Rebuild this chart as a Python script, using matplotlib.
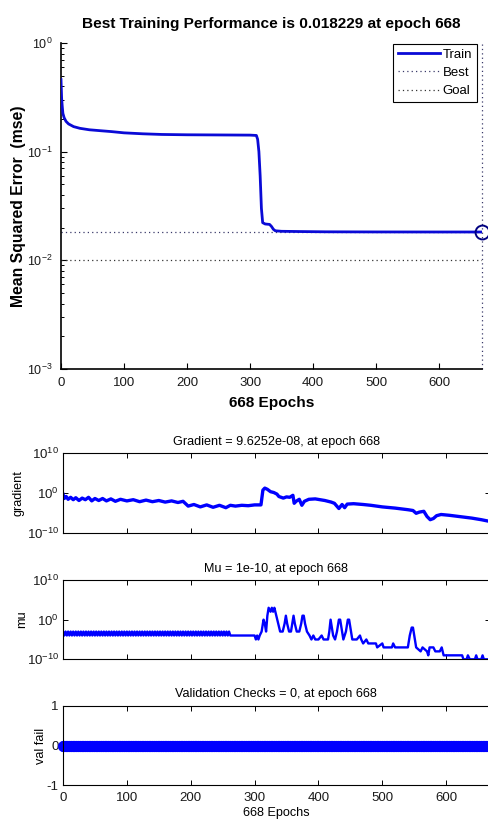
import numpy as np
import matplotlib
matplotlib.use("Agg")
import matplotlib.pyplot as plt
from matplotlib.ticker import LogLocator, NullFormatter, FixedLocator

SANS = "Liberation Sans"
plt.rcParams['font.family'] = [SANS, 'DejaVu Sans']
plt.rcParams['mathtext.fontset'] = 'custom'
plt.rcParams['mathtext.rm'] = SANS
plt.rcParams['mathtext.it'] = SANS
plt.rcParams['axes.linewidth'] = 0.8
plt.rcParams['axes.unicode_minus'] = False

# ---------------- data ----------------
n_epochs = 668
best_perf = 0.018229
goal = 0.01

train_epochs = [0, 1, 2, 3, 5, 8, 12, 20, 30, 45, 62, 80, 100, 130, 160, 200, 250, 300,
                310, 312, 314, 316, 318, 320, 324, 331, 334, 337, 340, 350, 380, 420, 500, 600, 668]
train_mse = [0.46, 0.31, 0.26, 0.225, 0.205, 0.19, 0.18, 0.17, 0.164, 0.159, 0.156, 0.153,
             0.149, 0.146, 0.144, 0.143, 0.1425, 0.142, 0.141, 0.13, 0.10, 0.06, 0.030, 0.0222,
             0.0216, 0.0214, 0.0205, 0.0193, 0.0187, 0.0185, 0.0184, 0.0183, 0.01825, 0.01823, 0.018229]

# gradient: (epoch, log10 gradient)
grad_points = [
    (0, -0.2), (2, -1.3), (5, -0.8), (8, -1.5), (12, -1.0), (16, -1.6), (20, -1.1), (25, -1.8),
    (30, -1.2), (35, -1.6), (40, -1.0), (45, -1.9), (50, -1.3), (56, -1.8), (62, -1.3),
    (68, -1.9), (75, -1.4), (82, -2.0), (90, -1.5), (100, -1.9), (110, -1.6), (120, -2.1),
    (130, -1.7), (140, -2.1), (150, -1.8), (160, -2.2), (170, -1.9), (180, -2.3), (188, -2.0),
    (192, -2.6), (196, -3.2), (205, -2.8), (215, -3.4), (225, -2.9), (235, -3.5), (245, -3.0),
    (255, -3.6), (262, -3.0), (270, -3.2), (280, -3.0), (290, -3.1), (300, -2.9), (310, -2.9),
    (313, 0.8), (316, 1.3), (320, 1.0), (325, 0.4), (330, 0.2), (335, -0.2), (338, -0.8),
    (345, -1.2), (350, -0.9), (355, -1.0), (360, -0.5), (362, -2.5), (365, -2.0), (370, -1.5),
    (374, -3.0), (378, -2.0), (385, -1.5), (395, -1.4), (410, -1.8), (420, -2.2), (425, -2.5),
    (432, -3.8), (437, -2.8), (441, -3.6), (445, -2.7), (455, -2.6), (470, -2.8), (482, -3.0),
    (500, -3.4), (520, -3.7), (540, -4.1), (548, -4.3), (553, -5.0), (558, -4.7), (565, -4.5),
    (570, -5.8), (575, -6.6), (580, -6.3), (585, -5.6), (592, -5.3), (605, -5.5), (620, -5.8),
    (640, -6.2), (655, -6.6), (668, -7.02),
]

# mu: (epoch, log10 mu)
mu_points = [
    (0, -3), (2, -4), (4, -3), (6, -4), (8, -3), (10, -4), (12, -3), (14, -4), (16, -3), (18, -4),
    (20, -3), (22, -4), (24, -3), (26, -4), (28, -3), (30, -4), (32, -3), (34, -4), (36, -3), (38, -4),
    (40, -3), (42, -4), (44, -3), (46, -4), (48, -3), (50, -4), (52, -3), (54, -4), (56, -3), (58, -4),
    (60, -3), (62, -4), (64, -3), (66, -4), (68, -3), (70, -4), (72, -3), (74, -4), (76, -3), (78, -4),
    (80, -3), (82, -4), (84, -3), (86, -4), (88, -3), (90, -4), (92, -3), (94, -4), (96, -3), (98, -4),
    (100, -3), (102, -4), (104, -3), (106, -4), (108, -3), (110, -4), (112, -3), (114, -4), (116, -3), (118, -4),
    (120, -3), (122, -4), (124, -3), (126, -4), (128, -3), (130, -4), (132, -3), (134, -4), (136, -3), (138, -4),
    (140, -3), (142, -4), (144, -3), (146, -4), (148, -3), (150, -4), (152, -3), (154, -4), (156, -3), (158, -4),
    (160, -3), (162, -4), (164, -3), (166, -4), (168, -3), (170, -4), (172, -3), (174, -4), (176, -3), (178, -4),
    (180, -3), (182, -4), (184, -3), (186, -4), (188, -3), (190, -4), (192, -3), (194, -4), (196, -3), (198, -4),
    (200, -3), (202, -4), (204, -3), (206, -4), (208, -3), (210, -4), (212, -3), (214, -4), (216, -3), (218, -4),
    (220, -3), (222, -4), (224, -3), (226, -4), (228, -3), (230, -4), (232, -3), (234, -4), (236, -3), (238, -4),
    (240, -3), (242, -4), (244, -3), (246, -4), (248, -3), (250, -4), (252, -3), (254, -4), (256, -3), (258, -4),
    (260, -3),
    (262, -4), (300, -4), (302, -5), (304, -4), (306, -5), (308, -4), (311, -3), (313, -1), (314, 0),
    (316, -1), (318, -3), (320, 1), (322, 3), (325, 2), (327, 3), (329, 2), (331, 3), (334, 1),
    (337, -1), (340, -3), (344, -3), (347, -1), (349, 1), (351, -1), (354, -3), (357, -3), (359, -1),
    (361, 1), (363, -1), (366, -3), (370, -3), (373, -1), (375, 1), (377, 1), (379, -1), (382, -3),
    (386, -4), (389, -5), (392, -4), (395, -5), (400, -5), (405, -4), (408, -5), (415, -5), (417, -3),
    (419, 0), (421, -2), (423, -4), (426, -5), (429, -3), (432, 0), (434, 0), (436, -2), (439, -5),
    (443, -3), (446, 0), (448, 0), (450, -2), (453, -5), (460, -5), (465, -4), (467, -5), (470, -6),
    (475, -5), (478, -6), (490, -6), (492, -7), (500, -6), (502, -7), (515, -7), (517, -6), (520, -7),
    (540, -7), (543, -4), (546, -2), (548, -2), (551, -5), (553, -7), (560, -8), (563, -7), (570, -8),
    (572, -9), (574, -7), (580, -7), (583, -8), (590, -8), (593, -7), (596, -9), (625, -9), (627, -10),
    (632, -10), (634, -9), (637, -10), (645, -10), (647, -9), (649, -10), (655, -10), (657, -9),
    (659, -10), (668, -10),
]

val_fail = np.zeros(n_epochs + 1)
x_ticks = [0, 100, 200, 300, 400, 500, 600]

grad_epochs = [p[0] for p in grad_points]
grad_vals = [10.0 ** p[1] for p in grad_points]
mu_epochs = [p[0] for p in mu_points]
mu_vals = [10.0 ** p[1] for p in mu_points]

# ---------------- figure ----------------
W, H = 489, 819
fig = plt.figure(figsize=(W / 100, H / 100), dpi=100)
fig.patch.set_facecolor('white')


def fr(l, t, r, b):
    return [l / W, 1 - b / H, (r - l) / W, (b - t) / H]


BLUE = '#0000ff'
LINE_BLUE = '#0a0ad6'
TICK_COLOR = '#1a1a1a'

# --- top performance plot
ax = fig.add_axes(fr(61, 43, 482, 369))
ax.semilogy(train_epochs, train_mse, color=LINE_BLUE, lw=2.0, label='Train', zorder=3)
ax.axhline(best_perf, color='#3a3a6a', lw=0.9, ls=(0, (1, 2.5)), label='Best')
ax.axvline(n_epochs, color='#3a3a6a', lw=0.9, ls=(0, (1, 2.5)), clip_on=False)
ax.axhline(goal, color='#333333', lw=0.9, ls=(0, (1, 2.5)), label='Goal')
ax.plot([n_epochs], [best_perf], 'o', mfc='none', mec='#000080', ms=10, mew=1.4,
        clip_on=False, zorder=4)
ax.set_xlim(0, n_epochs)
ax.set_ylim(1e-3, 1e0)
ax.set_xticks(x_ticks)
ax.yaxis.set_major_locator(LogLocator(base=10, numticks=10))
ax.yaxis.set_minor_locator(LogLocator(base=10, subs=np.arange(2, 10), numticks=10))
ax.yaxis.set_minor_formatter(NullFormatter())
ax.spines['top'].set_visible(False)
ax.spines['right'].set_visible(False)
ax.spines['left'].set_linewidth(1.2)
ax.spines['bottom'].set_linewidth(1.2)
ax.tick_params(which='major', direction='in', length=4, width=0.8, labelsize=9.5, pad=6,
               labelcolor=TICK_COLOR)
ax.tick_params(axis='y', which='major', labelsize=9)
ax.tick_params(which='minor', direction='in', length=2.5, width=0.7)
ax.set_title('Best Training Performance is 0.018229 at epoch 668', fontsize=11.1,
             fontweight='bold', family=SANS, pad=11)
ax.set_xlabel('668 Epochs', fontsize=11.1, fontweight='bold', family=SANS, labelpad=5)
ax.set_ylabel('Mean Squared Error  (mse)', fontsize=11.3, fontweight='bold', family=SANS,
              labelpad=0.6)
leg = ax.legend(loc='upper right', bbox_to_anchor=(0.987, 0.997), borderaxespad=0,
                fancybox=False, edgecolor='black', framealpha=1, prop={'family': SANS, 'size': 9.5},
                handlelength=3.2, handletextpad=0.2, labelspacing=0.45, borderpad=0.35,
                markerfirst=True)
leg.get_frame().set_linewidth(0.8)


# --- bottom state plots
def style_state(a):
    a.set_xlim(0, n_epochs)
    a.set_xticks(x_ticks)
    a.tick_params(which='major', direction='in', length=3.5, width=0.7, top=True, right=True,
                  labelsize=9.5, pad=3, labelcolor=TICK_COLOR)
    a.tick_params(which='minor', left=False, right=False, bottom=False, top=False)


axg = fig.add_axes(fr(63, 453.3, 489.6, 533.3))
axg.semilogy(grad_epochs, grad_vals, color=BLUE, lw=2.4)
axg.set_ylim(1e-10, 1e10)
axg.yaxis.set_major_locator(FixedLocator([1e-10, 1e0, 1e10]))
axg.yaxis.set_minor_formatter(NullFormatter())
style_state(axg)
axg.tick_params(labelbottom=False)
axg.set_title('Gradient = 9.6252e-08, at epoch 668', fontsize=9.1, family=SANS, pad=6)
axg.set_ylabel('gradient', fontsize=9.1, family=SANS, labelpad=1.2)

axm = fig.add_axes(fr(63, 580, 489.6, 659.3))
axm.semilogy(mu_epochs, mu_vals, color=BLUE, lw=1.7)
axm.set_ylim(1e-10, 1e10)
axm.yaxis.set_major_locator(FixedLocator([1e-10, 1e0, 1e10]))
axm.yaxis.set_minor_formatter(NullFormatter())
style_state(axm)
axm.tick_params(labelbottom=False)
axm.set_title('Mu = 1e-10, at epoch 668', fontsize=9.1, family=SANS, pad=6)
axm.set_ylabel('mu', fontsize=9.1, family=SANS, labelpad=-1.3)

axv = fig.add_axes(fr(63, 705.7, 489.6, 785.3))
axv.plot(np.arange(n_epochs + 1), val_fail, color=BLUE, lw=1, marker='o', ms=7.5,
         mfc=BLUE, mec=BLUE, mew=0.5, clip_on=False)
axv.set_ylim(-1, 1)
axv.set_yticks([-1, 0, 1])
style_state(axv)
axv.tick_params(axis='x', pad=5)
axv.set_title('Validation Checks = 0, at epoch 668', fontsize=9.1, family=SANS, pad=6)
axv.set_ylabel('val fail', fontsize=9.1, family=SANS, labelpad=0)
axv.set_xlabel('668 Epochs', fontsize=9.1, family=SANS, labelpad=2.3)

fig.savefig('out.png', dpi=100, facecolor='white')
